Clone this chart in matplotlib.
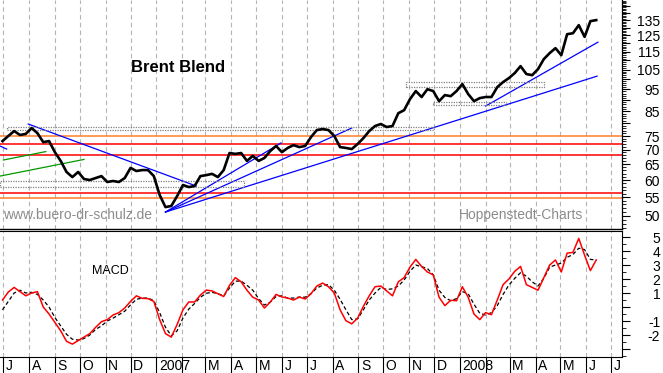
import matplotlib
matplotlib.use('Agg')
import matplotlib.pyplot as plt
import matplotlib.dates as mdates
import matplotlib.transforms as mtransforms
from matplotlib.patches import Rectangle
from matplotlib.ticker import NullFormatter
import pandas as pd

plt.rcParams['font.family'] = ['Liberation Sans', 'DejaVu Sans']

# weekly closes (Brent, USD)
weeks = pd.date_range('2006-06-30', periods=103, freq='7D')
brent = [73.1, 75.0, 76.9, 75.4, 75.8, 78.1, 76.1, 72.7, 73.1, 69.1,
         66.1, 62.5, 60.9, 62.5, 60.3, 60.0, 60.6, 61.2, 59.4, 59.7,
         59.4, 60.6, 63.8, 62.8, 63.1, 63.1, 61.2, 55.6, 52.3, 52.6,
         55.3, 58.5, 57.9, 58.2, 61.2, 61.5, 61.9, 60.9, 63.1, 68.8,
         68.5, 68.8, 66.1, 67.8, 66.1, 67.1, 69.5, 71.3, 69.1, 70.6,
         71.6, 70.9, 71.3, 74.6, 77.3, 77.7, 77.3, 75.0, 70.9, 70.6,
         70.2, 72.0, 74.2, 76.9, 78.9, 79.7, 78.5, 78.9, 84.2, 85.5,
         90.4, 94.2, 91.4, 95.1, 94.2, 89.5, 92.3, 91.8, 94.2, 97.6,
         92.8, 89.5, 90.9, 91.4, 91.4, 96.1, 98.6, 100.6, 103.2, 106.9,
         102.7, 102.1, 105.3, 110.8, 114.2, 117.1, 113.0, 125.7, 126.3, 131.6,
         124.0, 134.3, 135.0]

macd = [0.5, 1.07, 1.4, 1.1, 0.8, 1.0, 1.1, 0.0, -0.5, -1.1,
        -1.7, -2.45, -2.65, -2.4, -2.15, -1.9, -1.45, -1.05, -0.9, -0.57,
        -0.4, -0.07, 0.4, 0.8, 0.62, 0.6, 0.4, -0.9, -1.9, -2.15,
        -1.25, -0.2, 0.36, 0.36, 0.85, 1.21, 1.15, 0.95, 0.75, 1.55,
        2.1, 1.8, 1.2, 0.7, 0.5, -0.07, 0.35, 0.9, 0.72, 0.64,
        0.5, 0.71, 0.57, 0.95, 1.5, 1.71, 1.45, 1.0, -0.2, -0.98,
        -1.2, -0.8, 0.05, 0.8, 1.45, 1.5, 1.15, 0.8, 1.8, 2.1,
        2.85, 3.4, 2.9, 2.5, 2.3, 0.7, 0.1, 0.48, 0.45, 1.45,
        0.7, -0.5, -0.9, -0.4, -0.55, 0.5, 1.6, 2.0, 2.55, 2.9,
        1.6, 1.4, 1.2, 2.1, 3.0, 3.36, 2.5, 3.85, 3.9, 4.9,
        3.7, 2.6, 3.36]

signal = [-0.2, 0.4, 1.0, 1.2, 1.0, 1.05, 0.9, 0.5, 0.0, -0.75,
          -1.35, -1.95, -2.3, -2.36, -2.25, -2.0, -1.6, -1.35, -1.0, -0.79,
          -0.55, -0.3, 0.15, 0.55, 0.64, 0.64, 0.45, -0.4, -1.45, -2.05,
          -1.7, -0.79, -0.15, 0.25, 0.7, 0.98, 1.05, 0.95, 0.8, 1.36,
          1.85, 1.85, 1.55, 1.2, 0.6, 0.14, 0.35, 0.75, 0.8, 0.64,
          0.64, 0.71, 0.7, 0.95, 1.36, 1.55, 1.6, 1.2, 0.55, -0.2,
          -0.9, -0.85, -0.2, 0.5, 1.0, 1.4, 1.25, 1.3, 1.5, 1.93,
          2.55, 3.0, 2.88, 2.75, 2.3, 1.2, 0.68, 0.45, 0.6, 1.1,
          0.95, 0.2, -0.45, -0.57, -0.4, 0.1, 0.9, 1.57, 2.05, 2.45,
          2.2, 1.8, 1.5, 2.05, 2.85, 3.0, 3.14, 3.55, 3.75, 4.2,
          4.1, 3.4, 3.36]

# support / resistance levels
levels = [75.0, 72.0, 68.0, 56.1, 54.7]
level_colors = ['#ff7f27', '#ff0000', '#ff0000', '#ff0000', '#ff7f27']

# trend lines: start date, start value, end date, end value, colour
trend_lines = [
    ('2006-07-31', 79.7, '2007-02-18', 58.2, '#0000ff'),
    ('2006-06-27', 71.3, '2006-07-05', 70.2, '#0000ff'),
    ('2007-01-12', 51.0, '2007-05-31', 72.4, '#0000ff'),
    ('2007-01-12', 51.0, '2007-08-24', 78.1, '#0000ff'),
    ('2007-01-12', 51.0, '2008-06-14', 101.6, '#0000ff'),
    ('2008-02-01', 87.3, '2008-06-15', 120.7, '#0000ff'),
    ('2006-07-01', 66.4, '2006-08-21', 69.3, '#009900'),
    ('2006-06-27', 61.2, '2006-10-06', 66.6, '#009900'),
]

# trading ranges: start, end, low, high
boxes = [
    ('2006-07-06', '2007-12-01', 77.5, 78.5),
    ('2006-06-27', '2007-04-16', 57.9, 59.7),
    ('2007-10-28', '2008-04-11', 96.1, 98.6),
    ('2007-11-30', '2008-02-26', 87.8, 89.1),
]

price_ticks = [50, 55, 60, 65, 70, 75, 80, 85, 90, 95, 100, 105, 110, 115,
               120, 125, 130, 135, 140, 145]
price_labels = ['50', '55', '60', '65', '70', '75', '', '85', '', '95', '',
                '105', '', '115', '', '125', '', '135', '', '']
macd_ticks = [-3, -2, -1, 0, 1, 2, 3, 4, 5]
macd_labels = ['', '-2', '-1', '', '1', '2', '3', '4', '5']

months = pd.date_range('2006-07-01', '2008-07-01', freq='MS')
month_labels = []
for m in months:
    if m.month == 1:
        month_labels.append(str(m.year))
    elif m.month == 2:
        month_labels.append('')
    else:
        month_labels.append(m.strftime('%b')[0])

x0 = pd.Timestamp('2006-06-27')
x1 = pd.Timestamp('2008-07-14')

fig = plt.figure(figsize=(6.63, 3.73), dpi=100)
W, H = 663.0, 373.0
ax = fig.add_axes([0, 1 - 229 / H, 622 / W, 229 / H])
ax2 = fig.add_axes([0, 16 / H, 622 / W, 126 / H])

grid_kw = dict(color='#b4b4b4', linestyle=(0, (4, 3)), linewidth=0.8, zorder=0)

# ---- price panel
ax.set_yscale('log')
for m in months:
    ax.axvline(m, **grid_kw)
for lv, c in zip(levels, level_colors):
    ax.axhline(lv, color=c, linewidth=1.1, zorder=1)
for d0, v0, d1, v1, c in trend_lines:
    ax.plot([pd.Timestamp(d0), pd.Timestamp(d1)], [v0, v1], color=c,
            linewidth=0.9, zorder=2)
for d0, d1, lo, hi in boxes:
    a = mdates.date2num(pd.Timestamp(d0))
    b = mdates.date2num(pd.Timestamp(d1))
    ax.add_patch(Rectangle((a, lo), b - a, hi - lo, fill=False,
                           edgecolor='#808080', linewidth=0.9,
                           linestyle=(0, (1, 1)), zorder=2))
ax.plot(weeks, brent, color='black', linewidth=1.9, zorder=3)

ax.set_xlim(x0, x1)
ax.set_ylim(46.8, 149.5)
ax.yaxis.tick_right()
ax.set_yticks(price_ticks, labels=price_labels)
ax.set_yticks(range(47, 150), minor=True)
ax.yaxis.set_minor_formatter(NullFormatter())
ax.tick_params(axis='y', which='major', length=5.5, width=0.8, pad=22, labelsize=10)
ax.tick_params(axis='y', which='minor', length=3, width=0.6)
plt.setp(ax.get_yticklabels(), ha='right')
ax.tick_params(axis='x', which='both', bottom=False, labelbottom=False)
for s in ['left', 'top']:
    ax.spines[s].set_visible(False)
ax.spines['right'].set_linewidth(0.9)
ax.spines['bottom'].set_linewidth(1.0)

# ---- MACD panel
for m in months:
    ax2.axvline(m, **grid_kw)
ax2.plot(weeks, signal, color='black', linewidth=0.9, linestyle=(0, (3, 2)), zorder=2)
ax2.plot(weeks, macd, color='#ff0000', linewidth=1.1, zorder=3)
ax2.set_xlim(x0, x1)
ax2.set_ylim(-3.57, 5.43)
ax2.yaxis.tick_right()
ax2.set_yticks(macd_ticks, labels=macd_labels)
ax2.set_yticks([-3.5, -2.5, -1.5, -0.5, 0.5, 1.5, 2.5, 3.5, 4.5], minor=True)
ax2.tick_params(axis='y', which='major', length=5.5, width=0.8, pad=22, labelsize=10)
ax2.tick_params(axis='y', which='minor', length=3, width=0.6)
plt.setp(ax2.get_yticklabels(), ha='right')
ax2.set_xticks(months)
ax2.tick_params(axis='x', which='major', direction='out', length=11.5, width=0.8,
                labelbottom=False)
ax2.spines['left'].set_visible(False)

lab_trans = mtransforms.blended_transform_factory(ax2.transData, ax2.transAxes) + \
    mtransforms.ScaledTranslation(2.5 / 100, -2.5 / 100, fig.dpi_scale_trans)
for m, lab in zip(months, month_labels):
    ax2.text(m, 0, lab, transform=lab_trans, ha='left', va='top', fontsize=10)

# ---- annotations
fig.text(131 / W, 1 - 67 / H, 'Brent Blend', fontsize=12, fontweight='bold',
         ha='left', va='center')
fig.text(3 / W, 1 - 215 / H, 'www.buero-dr-schulz.de', fontsize=10,
         color='#8c8c8c', ha='left', va='center')
fig.text(459 / W, 1 - 215 / H, 'Hoppenstedt-Charts', fontsize=10,
         color='#8c8c8c', ha='left', va='center')
fig.text(92 / W, 1 - 271 / H, 'MACD', fontsize=9, ha='left', va='center')

fig.savefig('out.png', dpi=100)
